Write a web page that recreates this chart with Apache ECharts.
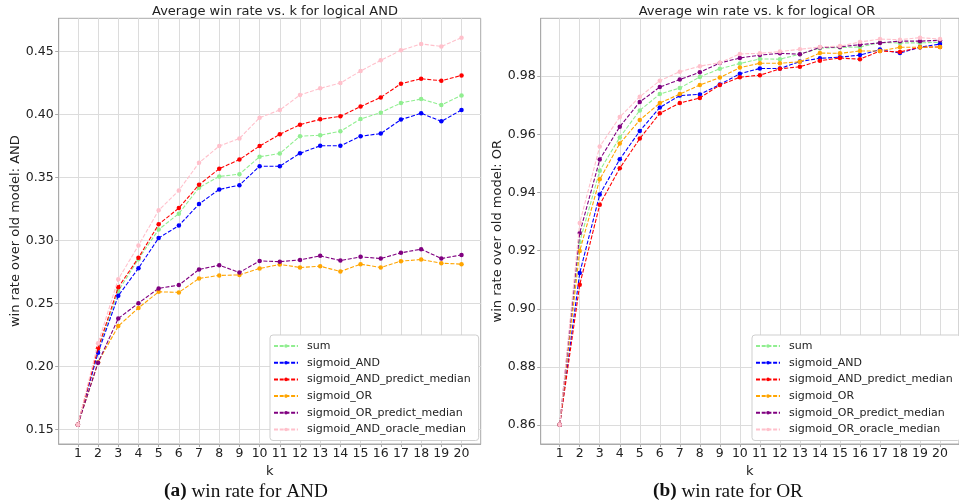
<!DOCTYPE html>
<html>
<head>
<meta charset="utf-8">
<script src="https://cdn.jsdelivr.net/npm/echarts@6/dist/echarts.min.js"></script>
<style>html,body{margin:0;padding:0;background:#fff;}#c{width:959px;height:501px;}</style>
</head>
<body>
<div id="c"></div>
<script>
const k = [1,2,3,4,5,6,7,8,9,10,11,12,13,14,15,16,17,18,19,20];
const seriesNamesAND = ['sum','sigmoid_AND','sigmoid_AND_predict_median','sigmoid_OR','sigmoid_OR_predict_median','sigmoid_AND_oracle_median'];
const seriesNamesOR = ['sum','sigmoid_AND','sigmoid_AND_predict_median','sigmoid_OR','sigmoid_OR_predict_median','sigmoid_OR_oracle_median'];
const colors = ['#90ee90','#0000ff','#ff0000','#ffa500','#800080','#ffc0cb'];

// AND panel
const and_sum = [0.154,0.213,0.260,0.2853,0.3088,0.3214,0.342,0.3509,0.3527,0.3665,0.3691,0.3828,0.3836,0.3867,0.3965,0.4015,0.4092,0.4123,0.4076,0.4152];
const and_sigAND = [0.154,0.2111,0.2562,0.2781,0.3021,0.3119,0.329,0.3406,0.344,0.359,0.359,0.3693,0.3752,0.3752,0.3828,0.3849,0.396,0.401,0.3946,0.4036];
const and_sigANDpm = [0.154,0.2146,0.2629,0.2864,0.3129,0.3258,0.3443,0.357,0.3643,0.375,0.3843,0.392,0.3962,0.3986,0.4063,0.4136,0.4245,0.4284,0.4268,0.431];
const and_sigOR = [0.154,0.2035,0.2322,0.2466,0.2594,0.2589,0.27,0.2724,0.2728,0.2779,0.2811,0.2787,0.2797,0.2755,0.2813,0.2787,0.2837,0.285,0.2821,0.2813];
const and_sigORpm = [0.154,0.2032,0.2382,0.2504,0.2621,0.2647,0.2771,0.2805,0.2747,0.2839,0.2833,0.2847,0.2879,0.2842,0.2871,0.2858,0.2903,0.2932,0.2858,0.2886];
const and_oracle = [0.154,0.2186,0.2694,0.2961,0.324,0.3398,0.3617,0.375,0.381,0.3975,0.4036,0.4155,0.4208,0.425,0.4345,0.443,0.451,0.456,0.454,0.461];

// OR panel
const or_sum = [0.8602,0.923,0.9475,0.9589,0.9682,0.9738,0.9759,0.9797,0.9825,0.9843,0.9859,0.9858,0.9875,0.9896,0.9898,0.99,0.9915,0.9914,0.9914,0.9916];
const or_sigAND = [0.8602,0.9123,0.9393,0.9514,0.9611,0.9692,0.9733,0.9737,0.9771,0.9808,0.9826,0.9826,0.985,0.9861,0.9865,0.9872,0.9891,0.9879,0.9899,0.991];
const or_sigANDpm = [0.8602,0.9083,0.9358,0.9483,0.9585,0.9672,0.9707,0.9725,0.9769,0.9796,0.9803,0.9825,0.9832,0.9853,0.9862,0.9858,0.9886,0.9883,0.9899,0.99];
const or_sigOR = [0.8602,0.9199,0.9445,0.9568,0.9649,0.9707,0.9738,0.9769,0.9795,0.9829,0.9844,0.9844,0.9849,0.9879,0.9878,0.9886,0.9886,0.9899,0.9899,0.99];
const or_sigORpm = [0.8602,0.9261,0.9513,0.9626,0.9711,0.9762,0.9788,0.9813,0.9845,0.9862,0.9872,0.9878,0.9875,0.9898,0.99,0.9908,0.9914,0.992,0.992,0.9923];
const or_oracle = [0.8602,0.9295,0.9558,0.9659,0.9729,0.9784,0.9815,0.9834,0.9846,0.9876,0.9878,0.9884,0.9892,0.99,0.9903,0.9917,0.9927,0.9925,0.9932,0.9927];

const yTicksAND = [0.15,0.20,0.25,0.30,0.35,0.40,0.45];
const yTicksOR = [0.86,0.88,0.90,0.92,0.94,0.96,0.98];

const andData = [and_sum,and_sigAND,and_sigANDpm,and_sigOR,and_sigORpm,and_oracle];
const orData = [or_sum,or_sigAND,or_sigANDpm,or_sigOR,or_sigORpm,or_oracle];

const FONT = 'DejaVu Sans';
function padRange(arrs){
  let mn = Infinity, mx = -Infinity;
  arrs.forEach(a=>a.forEach(v=>{mn=Math.min(mn,v);mx=Math.max(mx,v);}));
  const m = (mx-mn)*0.05;
  return [mn-m, mx+m];
}
const kPad = (k[k.length-1]-k[0])*0.05;
const rA = padRange(andData), rO = padRange(orData);

function xAxis(gi){
  return {
    type:'value', gridIndex:gi, min:k[0]-kPad, max:k[k.length-1]+kPad,
    name:'k', nameLocation:'middle', nameGap:14,
    nameTextStyle:{fontFamily:FONT,fontSize:13,color:'#222'},
    axisLine:{show:true,lineStyle:{color:'#aaa'}},
    axisTick:{show:true,length:3,lineStyle:{color:'#aaa'},customValues:k},
    axisLabel:{fontFamily:FONT,fontSize:12.5,color:'#222',margin:3,customValues:k,formatter:v=>String(Math.round(v))},
    splitLine:{show:true,lineStyle:{color:'#dcdcdc',width:1}}
  };
}
function yAxis(gi,r,ticks,name,gap){
  return {
    type:'value', gridIndex:gi, min:r[0], max:r[1],
    name:name, nameLocation:'middle', nameGap:gap,
    nameTextStyle:{fontFamily:FONT,fontSize:13,color:'#222'},
    axisLine:{show:true,lineStyle:{color:'#aaa'}},
    axisTick:{show:true,length:3.5,lineStyle:{color:'#aaa'},customValues:ticks},
    axisLabel:{fontFamily:FONT,fontSize:12.5,color:'#222',margin:5,customValues:ticks,formatter:v=>v.toFixed(2)},
    splitLine:{show:true,lineStyle:{color:'#dcdcdc',width:1}}
  };
}
function mkSeries(names,data,gi){
  return names.map((n,i)=>({
    name:n, type:'line', xAxisIndex:gi, yAxisIndex:gi,
    data:k.map((x,j)=>[x,data[i][j]]),
    symbol:'circle', symbolSize:4.5, showSymbol:true,
    itemStyle:{color:colors[i]},
    lineStyle:{color:colors[i],width:1.1,type:[4,1.7]},
    z:2+i, animation:false
  }));
}
function legend(names,left){
  return {
    orient:'vertical', left:left, top:335, data:names, selectedMode:false,
    backgroundColor:'#fff', borderColor:'#cfcfcf', borderWidth:1, borderRadius:3,
    padding:[4,8,4,3], itemWidth:24, itemHeight:4.5, itemGap:2.7,
    textStyle:{fontFamily:FONT,fontSize:11,color:'#222',lineHeight:14,padding:[0,0,0,4]}
  };
}
const capRich = {
  b:{fontFamily:'Liberation Serif',fontSize:19.3,fontWeight:'bold',color:'#111'},
  r:{fontFamily:'Liberation Serif',fontSize:19.3,fontWeight:'normal',color:'#111'}
};
const chart = echarts.init(document.getElementById('c'),null,{renderer:'canvas'});
chart.setOption({
  animation:false,
  backgroundColor:'#fff',
  title:[
    {text:'Average win rate vs. k for logical AND',left:270,top:0,textAlign:'center',textStyle:{fontFamily:FONT,fontSize:13,fontWeight:'normal',color:'#222'}},
    {text:'Average win rate vs. k for logical OR',left:752,top:0,textAlign:'center',textStyle:{fontFamily:FONT,fontSize:13,fontWeight:'normal',color:'#222'}},
    {text:'{b|(a)} {r|win rate for AND}',left:241,top:477,textAlign:'center',textStyle:{fontWeight:'normal',fontFamily:'Liberation Serif',fontSize:19.3,rich:capRich}},
    {text:'{b|(b)} {r|win rate for OR}',left:723,top:477,textAlign:'center',textStyle:{fontWeight:'normal',fontFamily:'Liberation Serif',fontSize:19.3,rich:capRich}}
  ],
  legend:[legend(seriesNamesAND,270),legend(seriesNamesOR,752)],
  grid:[
    {left:58.7,top:18.3,width:422,height:425.7,show:true,borderColor:'#aaa',borderWidth:1,backgroundColor:'#fff'},
    {left:540.7,top:18.3,width:422,height:425.7,show:true,borderColor:'#aaa',borderWidth:1,backgroundColor:'#fff'}
  ],
  xAxis:[xAxis(0),xAxis(1)],
  yAxis:[yAxis(0,rA,yTicksAND,'win rate over old model: AND',36),yAxis(1,rO,yTicksOR,'win rate over old model: OR',34)],
  series:[].concat(mkSeries(seriesNamesAND,andData,0),mkSeries(seriesNamesOR,orData,1))
});
</script>
</body>
</html>
